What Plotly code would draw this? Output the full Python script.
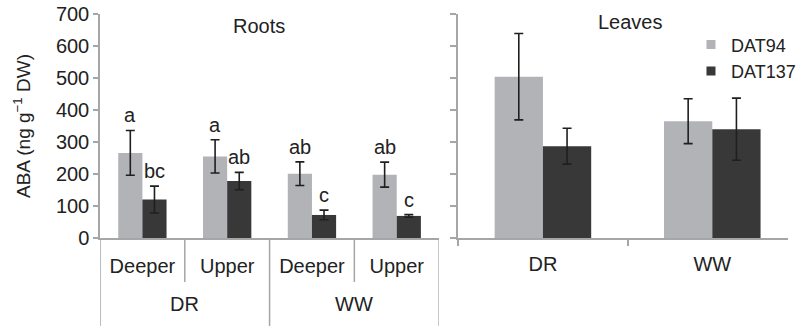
import plotly.graph_objects as go

# Root ABA by regime and soil layer
regimes = ["DR", "DR", "WW", "WW"]
layers = ["Deeper", "Upper", "Deeper", "Upper"]
root_dat94 = [266, 255, 201, 198]
root_dat94_err = [70, 52, 37, 39]
root_dat137 = [120, 178, 72, 69]
root_dat137_err = [42, 27, 15, 4]
root_letters_dat94 = ["a", "a", "ab", "ab"]
root_letters_dat137 = ["bc", "ab", "c", "c"]

# Leaf ABA by regime
leaf_regimes = ["DR", "WW"]
leaf_dat94 = [504, 365]
leaf_dat94_err = [135, 70]
leaf_dat137 = [287, 340]
leaf_dat137_err = [56, 97]

y_ticks = [0, 100, 200, 300, 400, 500, 600, 700]

LIGHT = "#b2b3b6"
DARK = "#383838"
AXIS = "#a6a6a6"
INK = "#222222"
FONT = "Liberation Sans, Arial, sans-serif"
BARGAP = 0.43

root_keys = [f"{r} {l}" for r, l in zip(regimes, layers)]


def err(values):
    return dict(type="data", array=values, color="#1f1f1f", thickness=1.6, width=4.5)


fig = go.Figure()

fig.add_trace(go.Bar(x=root_keys, y=root_dat94, error_y=err(root_dat94_err),
                     marker=dict(color=LIGHT, line=dict(width=0)), name="DAT94",
                     showlegend=False, xaxis="x", yaxis="y"))
fig.add_trace(go.Bar(x=root_keys, y=root_dat137, error_y=err(root_dat137_err),
                     marker=dict(color=DARK, line=dict(width=0)), name="DAT137",
                     showlegend=False, xaxis="x", yaxis="y"))
fig.add_trace(go.Bar(x=leaf_regimes, y=leaf_dat94, error_y=err(leaf_dat94_err),
                     marker=dict(color=LIGHT, line=dict(width=0)), name="DAT94",
                     showlegend=False, xaxis="x2", yaxis="y2"))
fig.add_trace(go.Bar(x=leaf_regimes, y=leaf_dat137, error_y=err(leaf_dat137_err),
                     marker=dict(color=DARK, line=dict(width=0)), name="DAT137",
                     showlegend=False, xaxis="x2", yaxis="y2"))

# legend entries with small square swatches
for name, color in [("DAT94", LIGHT), ("DAT137", DARK)]:
    fig.add_trace(go.Scatter(x=[None], y=[None], mode="markers", name=name,
                             marker=dict(symbol="square", size=9, color=color),
                             xaxis="x2", yaxis="y2"))

# significance letters above each error bar
offset = (1 - BARGAP) / 4
annotations = []
for i in range(len(layers)):
    for shift, vals, errs, letters in [(-offset, root_dat94, root_dat94_err, root_letters_dat94),
                                       (offset, root_dat137, root_dat137_err, root_letters_dat137)]:
        annotations.append(dict(x=i + shift, y=vals[i] + errs[i], xref="x", yref="y",
                                text=letters[i], showarrow=False, yanchor="bottom",
                                yshift=2, font=dict(size=20, color=INK, family=FONT)))

# regime group labels under the layer labels, and the divider lines of the table
shapes = []
bottom = -(326 - 238) / 224
inner = -(282 - 238) / 224
groups = []
for i, r in enumerate(regimes):
    if not groups or groups[-1][0] != r:
        groups.append([r, i, i])
    else:
        groups[-1][2] = i
for r, first, last in groups:
    annotations.append(dict(x=(first + last) / 2, y=-0.295, xref="x", yref="y domain",
                            text=r, showarrow=False, yanchor="middle",
                            font=dict(size=20, color=INK, family=FONT)))
    shapes.append(dict(type="line", xref="x", yref="y domain", x0=first - 0.5, x1=first - 0.5,
                       y0=0, y1=bottom, line=dict(color=AXIS, width=1.5)))
    for j in range(first, last):
        shapes.append(dict(type="line", xref="x", yref="y domain", x0=j + 0.5, x1=j + 0.5,
                           y0=0, y1=inner, line=dict(color=AXIS, width=1.5)))
last_edge = len(regimes) - 0.5
shapes.append(dict(type="line", xref="x", yref="y domain", x0=last_edge, x1=last_edge,
                   y0=0, y1=bottom, line=dict(color=AXIS, width=1.5)))

annotations.append(dict(x=0.469, y=0.9485, xref="x domain", yref="y domain", text="Roots",
                        showarrow=False, xanchor="center", yanchor="middle",
                        font=dict(size=20, color=INK, family=FONT)))
annotations.append(dict(x=0.522, y=0.9655, xref="x2 domain", yref="y2 domain", text="Leaves",
                        showarrow=False, xanchor="center", yanchor="middle",
                        font=dict(size=20, color=INK, family=FONT)))

axis_common = dict(showline=True, linecolor=AXIS, linewidth=1.5, tickcolor=AXIS,
                   tickwidth=1.5, showgrid=False, zeroline=False)

fig.update_layout(
    width=801, height=326,
    margin=dict(l=100, r=0, t=14, b=88, pad=0),
    paper_bgcolor="white", plot_bgcolor="white",
    font=dict(family=FONT, size=20, color=INK),
    barmode="group", bargap=BARGAP, bargroupgap=0,
    showlegend=True,
    legend=dict(x=0.859, y=0.945, xanchor="left", yanchor="top",
                bgcolor="rgba(0,0,0,0)", font=dict(size=18, color=INK, family=FONT),
                itemwidth=30, tracegroupgap=0),
    xaxis=dict(domain=[0, 0.4929], type="category", range=[-0.5, 3.5],
               tickvals=root_keys, ticktext=layers, ticks="", ticklabelstandoff=9,
               anchor="y", **axis_common),
    yaxis=dict(domain=[0, 1], range=[0, 700], tickvals=y_ticks, ticks="outside",
               ticklen=5, anchor="x",
               title=dict(text="ABA (ng g<sup>−1</sup> DW)", standoff=20,
                          font=dict(size=19, color=INK, family=FONT)),
               **axis_common),
    xaxis2=dict(domain=[0.5207, 1], type="category", range=[-0.5, 1.447],
                ticks="outside", tickson="boundaries", ticklen=6, ticklabelstandoff=7,
                anchor="y2", **axis_common),
    yaxis2=dict(domain=[0, 1], range=[0, 700], tickvals=y_ticks, ticks="outside",
                ticklen=6, showticklabels=False, anchor="x2", **axis_common),
    annotations=annotations,
    shapes=shapes,
)

fig.write_html("out.html")
